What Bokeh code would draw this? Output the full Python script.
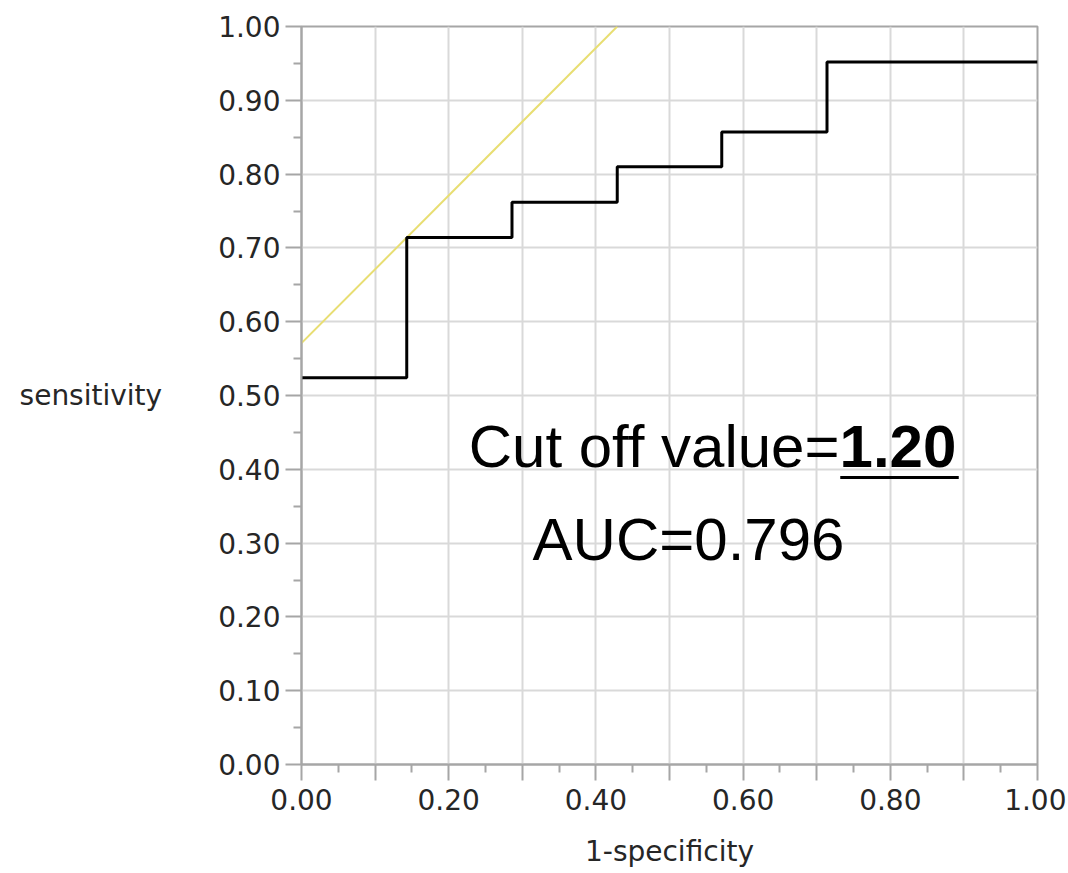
from bokeh.plotting import figure
from bokeh.models import FixedTicker, Label, Range1d, CustomJSTickFormatter, PrintfTickFormatter
from bokeh.embed import file_html
from bokeh.resources import INLINE

# ROC curve values (1-specificity, sensitivity), step-after
fpr = [0.0, 0.143, 0.286, 0.429, 0.571, 0.714, 1.0]
tpr = [0.524, 0.714, 0.762, 0.810, 0.857, 0.952, 0.952]

# tangent line (slope 1) through the cut-off point
tangent_x = [0.0, 0.429]
tangent_y = [0.571, 1.0]

cutoff_text = "1.20"
auc_text = "AUC=0.796"

major_ticks = [round(i * 0.1, 2) for i in range(11)]
minor_ticks = [round(0.05 + i * 0.1, 2) for i in range(10)]

AX = "#a6a6a6"
GRID = "#d9d9d9"
TXT = "#262626"

p = figure(width=1066, height=870, x_range=Range1d(0, 1), y_range=Range1d(0, 1),
           output_backend="svg", toolbar_location=None,
           min_border_left=301, min_border_right=29, min_border_top=26, min_border_bottom=106)

p.outline_line_color = AX
p.outline_line_width = 2
p.background_fill_color = "white"
p.border_fill_color = "white"

p.xaxis.ticker = FixedTicker(ticks=major_ticks, minor_ticks=minor_ticks)
p.yaxis.ticker = FixedTicker(ticks=major_ticks, minor_ticks=minor_ticks)
p.xaxis.formatter = CustomJSTickFormatter(code="return (Math.round(tick*10) % 2 == 0) ? tick.toFixed(2) : '';")
p.yaxis.formatter = PrintfTickFormatter(format="%.2f")

for ax in (p.xaxis, p.yaxis):
    ax.axis_line_color = AX
    ax.axis_line_width = 2
    ax.major_tick_line_color = AX
    ax.major_tick_line_width = 2
    ax.minor_tick_line_color = AX
    ax.minor_tick_line_width = 2
    ax.major_tick_out = 16
    ax.major_tick_in = 0
    ax.minor_tick_out = 8
    ax.minor_tick_in = 0
    ax.major_label_text_font = "DejaVu Sans"
    ax.major_label_text_font_size = "28px"
    ax.major_label_text_color = TXT
    ax.axis_label_text_font = "DejaVu Sans"
    ax.axis_label_text_font_size = "28px"
    ax.axis_label_text_font_style = "normal"
    ax.axis_label_text_color = TXT

p.xaxis.major_label_standoff = 8
p.yaxis.major_label_standoff = 5
p.xaxis.axis_label = "1-specificity"
p.xaxis.axis_label_standoff = 22
p.yaxis.axis_label = "sensitivity"
p.yaxis.axis_label_orientation = "horizontal"
p.yaxis.axis_label_standoff = 53

p.grid.grid_line_color = GRID
p.grid.grid_line_width = 2

p.line(tangent_x, tangent_y, line_color="#e8de72", line_width=2)
p.step(fpr, tpr, mode="after", line_color="black", line_width=3)

x_join = 0.731
y_cut = 0.431
p.add_layout(Label(x=x_join, y=y_cut, text="Cut off value=", text_align="right",
                   text_baseline="alphabetic", text_font="Liberation Sans",
                   text_font_size="60px", text_color="black"))
p.add_layout(Label(x=x_join, y=y_cut, text=cutoff_text, text_align="left",
                   text_baseline="alphabetic", text_font="Liberation Sans",
                   text_font_size="60px", text_font_style="bold", text_color="black"))
p.segment(x0=[0.732], y0=[0.389], x1=[0.893], y1=[0.389], line_color="black", line_width=3)
p.add_layout(Label(x=0.314, y=0.305, text=auc_text, text_align="left",
                   text_baseline="alphabetic", text_font="Liberation Sans",
                   text_font_size="60px", text_color="black"))

open("out.html", "w").write(file_html(p, INLINE))
